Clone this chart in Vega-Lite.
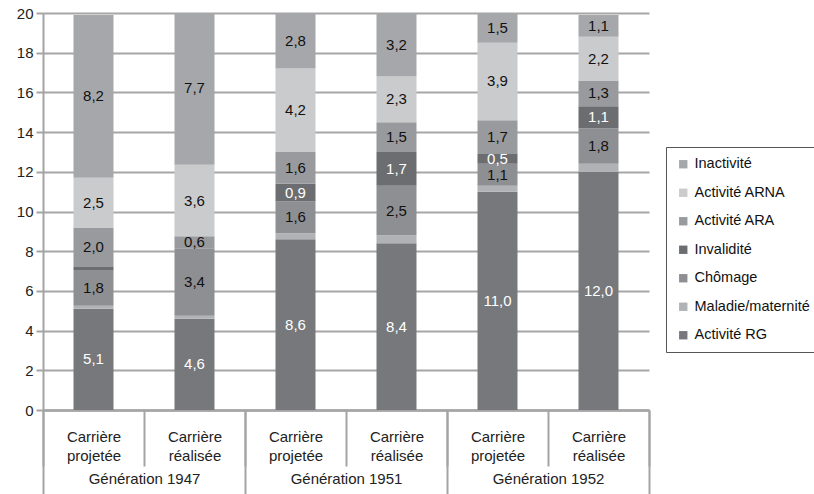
{
  "$schema": "https://vega.github.io/schema/vega-lite/v6.json",
  "width": 606,
  "height": 397,
  "autosize": {"type": "none"},
  "padding": {"left": 43, "top": 13, "right": 165, "bottom": 84},
  "background": "white",
  "config": {
    "view": {"stroke": null},
    "font": "Liberation Sans",
    "text": {"font": "Liberation Sans"}
  },
  "data": {
    "values": [
      {"gen": "Génération 1947", "car": "Carrière projetée", "bar": "1947 projetée", "cat": "Activité RG", "ord": 1, "v": 5.1},
      {"gen": "Génération 1947", "car": "Carrière projetée", "bar": "1947 projetée", "cat": "Maladie/maternité", "ord": 2, "v": 0.15},
      {"gen": "Génération 1947", "car": "Carrière projetée", "bar": "1947 projetée", "cat": "Chômage", "ord": 3, "v": 1.8},
      {"gen": "Génération 1947", "car": "Carrière projetée", "bar": "1947 projetée", "cat": "Invalidité", "ord": 4, "v": 0.15},
      {"gen": "Génération 1947", "car": "Carrière projetée", "bar": "1947 projetée", "cat": "Activité ARA", "ord": 5, "v": 2.0},
      {"gen": "Génération 1947", "car": "Carrière projetée", "bar": "1947 projetée", "cat": "Activité ARNA", "ord": 6, "v": 2.5},
      {"gen": "Génération 1947", "car": "Carrière projetée", "bar": "1947 projetée", "cat": "Inactivité", "ord": 7, "v": 8.2},

      {"gen": "Génération 1947", "car": "Carrière réalisée", "bar": "1947 réalisée", "cat": "Activité RG", "ord": 1, "v": 4.6},
      {"gen": "Génération 1947", "car": "Carrière réalisée", "bar": "1947 réalisée", "cat": "Maladie/maternité", "ord": 2, "v": 0.15},
      {"gen": "Génération 1947", "car": "Carrière réalisée", "bar": "1947 réalisée", "cat": "Chômage", "ord": 3, "v": 3.4},
      {"gen": "Génération 1947", "car": "Carrière réalisée", "bar": "1947 réalisée", "cat": "Invalidité", "ord": 4, "v": 0.0},
      {"gen": "Génération 1947", "car": "Carrière réalisée", "bar": "1947 réalisée", "cat": "Activité ARA", "ord": 5, "v": 0.6},
      {"gen": "Génération 1947", "car": "Carrière réalisée", "bar": "1947 réalisée", "cat": "Activité ARNA", "ord": 6, "v": 3.6},
      {"gen": "Génération 1947", "car": "Carrière réalisée", "bar": "1947 réalisée", "cat": "Inactivité", "ord": 7, "v": 7.7},

      {"gen": "Génération 1951", "car": "Carrière projetée", "bar": "1951 projetée", "cat": "Activité RG", "ord": 1, "v": 8.6},
      {"gen": "Génération 1951", "car": "Carrière projetée", "bar": "1951 projetée", "cat": "Maladie/maternité", "ord": 2, "v": 0.3},
      {"gen": "Génération 1951", "car": "Carrière projetée", "bar": "1951 projetée", "cat": "Chômage", "ord": 3, "v": 1.6},
      {"gen": "Génération 1951", "car": "Carrière projetée", "bar": "1951 projetée", "cat": "Invalidité", "ord": 4, "v": 0.9},
      {"gen": "Génération 1951", "car": "Carrière projetée", "bar": "1951 projetée", "cat": "Activité ARA", "ord": 5, "v": 1.6},
      {"gen": "Génération 1951", "car": "Carrière projetée", "bar": "1951 projetée", "cat": "Activité ARNA", "ord": 6, "v": 4.2},
      {"gen": "Génération 1951", "car": "Carrière projetée", "bar": "1951 projetée", "cat": "Inactivité", "ord": 7, "v": 2.8},

      {"gen": "Génération 1951", "car": "Carrière réalisée", "bar": "1951 réalisée", "cat": "Activité RG", "ord": 1, "v": 8.4},
      {"gen": "Génération 1951", "car": "Carrière réalisée", "bar": "1951 réalisée", "cat": "Maladie/maternité", "ord": 2, "v": 0.4},
      {"gen": "Génération 1951", "car": "Carrière réalisée", "bar": "1951 réalisée", "cat": "Chômage", "ord": 3, "v": 2.5},
      {"gen": "Génération 1951", "car": "Carrière réalisée", "bar": "1951 réalisée", "cat": "Invalidité", "ord": 4, "v": 1.7},
      {"gen": "Génération 1951", "car": "Carrière réalisée", "bar": "1951 réalisée", "cat": "Activité ARA", "ord": 5, "v": 1.5},
      {"gen": "Génération 1951", "car": "Carrière réalisée", "bar": "1951 réalisée", "cat": "Activité ARNA", "ord": 6, "v": 2.3},
      {"gen": "Génération 1951", "car": "Carrière réalisée", "bar": "1951 réalisée", "cat": "Inactivité", "ord": 7, "v": 3.2},

      {"gen": "Génération 1952", "car": "Carrière projetée", "bar": "1952 projetée", "cat": "Activité RG", "ord": 1, "v": 11.0},
      {"gen": "Génération 1952", "car": "Carrière projetée", "bar": "1952 projetée", "cat": "Maladie/maternité", "ord": 2, "v": 0.3},
      {"gen": "Génération 1952", "car": "Carrière projetée", "bar": "1952 projetée", "cat": "Chômage", "ord": 3, "v": 1.1},
      {"gen": "Génération 1952", "car": "Carrière projetée", "bar": "1952 projetée", "cat": "Invalidité", "ord": 4, "v": 0.5},
      {"gen": "Génération 1952", "car": "Carrière projetée", "bar": "1952 projetée", "cat": "Activité ARA", "ord": 5, "v": 1.7},
      {"gen": "Génération 1952", "car": "Carrière projetée", "bar": "1952 projetée", "cat": "Activité ARNA", "ord": 6, "v": 3.9},
      {"gen": "Génération 1952", "car": "Carrière projetée", "bar": "1952 projetée", "cat": "Inactivité", "ord": 7, "v": 1.5},

      {"gen": "Génération 1952", "car": "Carrière réalisée", "bar": "1952 réalisée", "cat": "Activité RG", "ord": 1, "v": 12.0},
      {"gen": "Génération 1952", "car": "Carrière réalisée", "bar": "1952 réalisée", "cat": "Maladie/maternité", "ord": 2, "v": 0.4},
      {"gen": "Génération 1952", "car": "Carrière réalisée", "bar": "1952 réalisée", "cat": "Chômage", "ord": 3, "v": 1.8},
      {"gen": "Génération 1952", "car": "Carrière réalisée", "bar": "1952 réalisée", "cat": "Invalidité", "ord": 4, "v": 1.1},
      {"gen": "Génération 1952", "car": "Carrière réalisée", "bar": "1952 réalisée", "cat": "Activité ARA", "ord": 5, "v": 1.3},
      {"gen": "Génération 1952", "car": "Carrière réalisée", "bar": "1952 réalisée", "cat": "Activité ARNA", "ord": 6, "v": 2.2},
      {"gen": "Génération 1952", "car": "Carrière réalisée", "bar": "1952 réalisée", "cat": "Inactivité", "ord": 7, "v": 1.1}
    ]
  },
  "transform": [
    {"stack": "v", "groupby": ["bar"], "sort": [{"field": "ord", "order": "ascending"}], "as": ["y0", "y1"]},
    {"calculate": "(datum.y0 + datum.y1) / 2", "as": "ymid"},
    {"calculate": "replace(format(datum.v, '.1f'), '.', ',')", "as": "lbl"}
  ],
  "layer": [
    {
      "mark": {"type": "bar", "clip": true},
      "encoding": {
        "x": {
          "field": "gen", "type": "nominal",
          "sort": ["Génération 1947", "Génération 1951", "Génération 1952"],
          "scale": {"paddingInner": 0, "paddingOuter": 0},
          "axis": {
            "orient": "bottom", "title": null, "labelAngle": 0,
            "tickBand": "extent", "tickSize": 84, "tickWidth": 2, "tickColor": "#a4a4a4",
            "domainColor": "#a4a4a4", "domainWidth": 2,
            "labelPadding": -23, "labelFontSize": 15, "labelColor": "#222",
            "labelFont": "Liberation Sans"
          }
        },
        "xOffset": {
          "field": "car", "type": "nominal",
          "sort": ["Carrière projetée", "Carrière réalisée"],
          "scale": {"paddingInner": 0.604, "paddingOuter": 0.302}
        },
        "y": {
          "field": "y0", "type": "quantitative",
          "scale": {"domain": [0, 20], "nice": false},
          "axis": {
            "title": null, "values": [0, 2, 4, 6, 8, 10, 12, 14, 16, 18, 20],
            "grid": true, "gridColor": "#a6a6a6", "gridWidth": 2,
            "domainColor": "#a4a4a4", "domainWidth": 2,
            "tickColor": "#a4a4a4", "tickWidth": 2, "tickSize": 7,
            "labelFontSize": 15, "labelColor": "#222", "labelPadding": 3,
            "labelFont": "Liberation Sans"
          }
        },
        "y2": {"field": "y1"},
        "color": {
          "field": "cat", "type": "nominal",
          "scale": {
            "domain": ["Inactivité", "Activité ARNA", "Activité ARA", "Invalidité", "Chômage", "Maladie/maternité", "Activité RG"],
            "range": ["#a6a7aa", "#cacbcd", "#999a9d", "#6c6d70", "#8e8f92", "#b1b2b5", "#77787b"]
          },
          "legend": {
            "orient": "none", "legendX": 623, "legendY": 134,
            "title": null, "symbolType": "square", "symbolSize": 70, "symbolStrokeWidth": 0,
            "labelFontSize": 14.5, "labelColor": "#111", "labelFont": "Liberation Sans",
            "rowPadding": 13.5, "padding": 10, "labelOffset": 4,
            "strokeColor": "#555", "fillColor": "white"
          }
        }
      }
    },
    {
      "transform": [{"filter": "datum.cat !== 'Maladie/maternité' && datum.v >= 0.3"}],
      "mark": {"type": "text", "fontSize": 15, "baseline": "middle", "align": "center", "font": "Liberation Sans"},
      "encoding": {
        "x": {
          "field": "bar", "type": "nominal",
          "sort": ["1947 projetée", "1947 réalisée", "1951 projetée", "1951 réalisée", "1952 projetée", "1952 réalisée"],
          "scale": {"paddingInner": 0, "paddingOuter": 0},
          "axis": {
            "orient": "bottom", "title": null, "labelAngle": 0,
            "labelExpr": "!datum.label ? '' : (indexof(datum.label, 'projetée') >= 0 ? ['Carrière', 'projetée'] : ['Carrière', 'réalisée'])",
            "tickBand": "extent", "tickSize": 56, "tickWidth": 2, "tickColor": "#a4a4a4",
            "domainColor": "#a4a4a4", "domainWidth": 2,
            "labelPadding": -37, "labelLineHeight": 19, "labelFontSize": 15, "labelColor": "#222",
            "labelFont": "Liberation Sans"
          }
        },
        "y": {
          "field": "ymid", "type": "quantitative",
          "axis": {
            "title": null, "values": [0, 2, 4, 6, 8, 10, 12, 14, 16, 18, 20],
            "grid": true, "gridColor": "#a6a6a6", "gridWidth": 2,
            "domainColor": "#a4a4a4", "domainWidth": 2,
            "tickColor": "#a4a4a4", "tickWidth": 2, "tickSize": 7,
            "labelFontSize": 15, "labelColor": "#222", "labelPadding": 3,
            "labelFont": "Liberation Sans"
          }
        },
        "text": {"field": "lbl"},
        "color": {
          "condition": {"test": "datum.cat === 'Activité RG' || datum.cat === 'Invalidité'", "value": "white"},
          "value": "#111"
        }
      }
    }
  ],
  "resolve": {"scale": {"x": "independent"}, "axis": {"x": "independent"}}
}
